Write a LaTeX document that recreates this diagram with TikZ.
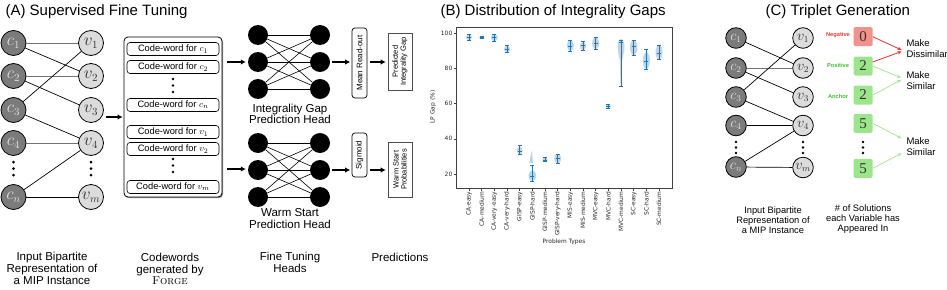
\documentclass[tikz,border=0pt]{standalone}
\usepackage{fontspec}
\setsansfont{Liberation Sans}
\newfontfamily\djv{DejaVu Sans}
\newfontfamily\tms{Liberation Serif}
\usetikzlibrary{arrows.meta}
\newcommand\setfs[2]{\fontsize{#1}{#2}\selectfont}
\definecolor{tabblue}{HTML}{1F77B4}
\definecolor{cdark}{HTML}{7B7B7B}
\definecolor{vlight}{HTML}{DCDCDC}
\definecolor{negred}{HTML}{F4918B}
\definecolor{posgreen}{HTML}{9DE58C}
\definecolor{labred}{HTML}{EE3B30}
\definecolor{labgreen}{HTML}{3CC030}
\definecolor{arrgreen}{HTML}{A8E892}
\definecolor{arrred}{HTML}{E8312A}
\begin{document}
\begin{tikzpicture}[x=1pt,y=-1pt,
  every node/.style={font=\sffamily},
  cnode/.style={circle,draw=black,line width=0.8pt,fill=cdark,minimum size=25pt,inner sep=0pt,text=black!12,font=\setfs{16}{16}},
  vnode/.style={circle,draw=black,line width=0.8pt,fill=vlight,minimum size=25pt,inner sep=0pt,text=black!80,font=\setfs{16}{16}},
  ccnode/.style={cnode,minimum size=20.6pt,font=\setfs{13.5}{13.5}},
  cvnode/.style={vnode,minimum size=20.6pt,font=\setfs{13.5}{13.5}},
  edge/.style={line width=0.7pt,black},
  gedge/.style={line width=1pt,black!55},
  arr/.style={line width=1.4pt,-{Latex[length=5pt,width=5.5pt]}},
  title/.style={anchor=base west,font=\sffamily\setfs{15}{16}},
  lab/.style={align=center,font=\sffamily\setfs{11.5}{11.7}},
  clab/.style={align=center,font=\sffamily\setfs{9.3}{10.2}},
  cwbox/.style={draw,rounded corners=3pt,line width=0.6pt,minimum width=92pt,minimum height=13pt,inner sep=0pt,font=\sffamily\setfs{9.3}{9.5}},
  neuron/.style={circle,fill=black,minimum size=20pt,inner sep=0pt},
  nedge/.style={line width=0.6pt,black},
  rbox/.style={draw,rounded corners=3pt,line width=0.7pt,rotate=90,inner sep=0pt,minimum height=15pt,font=\sffamily\setfs{8}{8.5}},
  pbox/.style={draw,line width=0.6pt,black!70,text=black,rotate=90,inner sep=0pt,minimum height=24pt,align=center,font=\sffamily\setfs{7.5}{8}},
  tick/.style={font=\djv\setfs{5.9}{6.2},text=black!85,inner sep=1pt},
  sq/.style={minimum size=19pt,rounded corners=1.5pt,inner sep=0pt,font=\tms\setfs{15}{15},text=black!80},
  tlab/.style={font=\sffamily\bfseries\setfs{5.7}{6}},
  mk/.style={anchor=west,align=left,font=\sffamily\setfs{9.5}{10.8}},
  rarr/.style={arrred,line width=0.8pt,-{Stealth[length=4pt,width=3.5pt]}},
  garr/.style={arrgreen,line width=0.8pt,-{Stealth[length=4pt,width=3.5pt]}}
]
\useasboundingbox (0,0) rectangle (947,289);

% ================= Panel A =================
\node[title] (tA) at (2,15.5) {(A) Supervised Fine Tuning};

\node[cnode] (ac1) at (13.5,43) {$c_1$};
\node[cnode] (ac2) at (13.5,76) {$c_2$};
\node[cnode] (ac3) at (13.5,110) {$c_3$};
\node[cnode] (ac4) at (13.5,143) {$c_4$};
\node[cnode] (acn) at (13.5,197) {$c_n$};
\node[vnode] (av1) at (91,43) {$v_1$};
\node[vnode] (av2) at (91,76) {$v_2$};
\node[vnode] (av3) at (91,110) {$v_3$};
\node[vnode] (av4) at (91,143) {$v_4$};
\node[vnode] (avm) at (91,197) {$v_m$};
\foreach \y in {162,168.5,175} {\fill (13.5,\y) circle (1.5pt); \fill (91,\y) circle (1.5pt);}
\draw[gedge] (ac1) -- (av1);
\draw[edge] (ac1) -- (av2);
\draw[gedge] (ac2) -- (av2);
\draw[edge] (ac2) -- (av3);
\draw[edge] (ac3) -- (av1);
\draw[edge] (ac3) -- (av4);
\draw[gedge] (ac4) -- (av4);
\draw[edge] (acn) -- (av4);
\draw[edge] (acn) -- (avm);

% codeword box
\fill[black!45,rounded corners=4pt] (125,38.2) rectangle (223,198.2);
\node[draw,fill=white,rounded corners=4pt,line width=0.8pt,minimum width=98pt,minimum height=160pt,inner sep=0pt] (cw) at (173,117) {};
\node[cwbox] (w1) at (173,49) {Code-word for $c_1$};
\node[cwbox] (w2) at (173,67) {Code-word for $c_2$};
\node[cwbox] (w3) at (173,105) {Code-word for $c_n$};
\node[cwbox] (w4) at (173,132) {Code-word for $v_1$};
\node[cwbox] (w5) at (173,149) {Code-word for $v_2$};
\node[cwbox] (w6) at (173,187) {Code-word for $v_m$};
\foreach \y in {79,85.5,92,159,165.5,172} {\fill (173,\y) circle (1.3pt);}

\coordinate (ain) at (106,117);
\draw[arr] (ain) -- ([xshift=-1pt]ain -| cw.west);

% heads
\foreach \r/\y in {1/35,2/62,3/89} {
  \node[neuron] (h1l\r) at (258,\y) {};
  \node[neuron] (h1r\r) at (320,\y) {};
}
\foreach \r/\y in {1/143,2/170,3/197} {
  \node[neuron] (h2l\r) at (258,\y) {};
  \node[neuron] (h2r\r) at (320,\y) {};
}
\foreach \i in {1,2,3} {\foreach \j in {1,2,3} {
  \draw[nedge] (h1l\i) -- (h1r\j);
  \draw[nedge] (h2l\i) -- (h2r\j);
}}
\coordinate (o1) at (227,62);
\coordinate (o2) at (227,169);
\draw[arr] (o1) -- ([xshift=-2pt]h1l2.west);
\draw[arr] (o2) -- ([xshift=-2pt]o2 -| h2l2.west);

\node[lab] (lh1) at (290,114) {Integrality Gap\\Prediction Head};
\node[lab] (lh2) at (290,218.5) {Warm Start\\Prediction Head};

% readouts
\node[rbox,minimum width=70pt] (mro) at (359.5,63) {Mean Read-out};
\node[rbox,minimum width=44pt] (sig) at (359.5,155) {Sigmoid};
\node[pbox,minimum width=57pt] (pig) at (400,61.5) {Predicted\\Integrality Gap};
\node[pbox,minimum width=55pt] (pws) at (400,169.5) {Warm Start\\Probabilities};
\draw[arr] ([xshift=2pt]h1r2.east) -- ([xshift=-1.5pt]h1r2.east -| mro.north);
\draw[arr] ([xshift=2pt]h2r2.east) -- ([xshift=-1.5pt]h2r2.east -| sig.north);
\draw[arr] ([xshift=3pt]mro.south |- h1r2) -- ([xshift=-2pt]pig.north |- h1r2);
\draw[arr] ([xshift=3pt]sig.south |- h2r2) -- ([xshift=-2pt]pws.north |- h2r2);

\node[lab] (bA1) at (52,268.5) {Input Bipartite\\Representation of\\a MIP Instance};
\node[lab] (bA2) at (170,269) {Codewords\\generated by\\{\rmfamily\textsc{Forge}}};
\node[lab] (bA3) at (290,262.5) {Fine Tuning\\Heads};
\node[lab] (bA4) at (400,257) {Predictions};

% ================= Panel B =================
\node[title] (tB) at (437,15.5) {(B) Distribution of Integrality Gaps};
\draw[black!75,line width=0.6pt] (456,27.5) rectangle (672,188);
\foreach \v in {20,40,60,80,100} {
  \draw[black!75,line width=0.5pt] (456,{174-(\v-20)*1.7625}) -- ++(-2.5,0) node[tick,anchor=east] {\v};
}
\node[tick] (ylab) at (433,107) [rotate=90] {LP Gap (\%)};
\foreach \lab [count=\i from 0] in {CA-easy,CA-medium,CA-very-easy,CA-very-hard,GISP-easy,GISP-hard,GISP-medium,GISP-very-hard,MIS-easy,MIS-medium,MVC-easy,MVC-hard,MVC-medium,SC-easy,SC-hard,SC-medium} {
  \pgfmathsetmacro\xx{469+\i*12.667}
  \draw[black!75,line width=0.5pt] (\xx,188) -- (\xx,190.5) node[tick,anchor=east,rotate=90] {\lab};
}
\node[tick] (xlab) at (564,242) {Problem Types};
% violins
\foreach \i/\vlo/\vhi/\w in {0/96/99/3,1/96.8/98.3/2.5,2/95.3/99.5/3.5,3/89/92.8/3,4/31.3/35.5/3,5/16/22/4,6/27/29.3/2.8,7/26/31.5/3.5,8/89.8/96/3.5,9/90.3/95/3.2,10/90.8/97.6/3.5,11/57/59.7/2.5,13/87.5/96/3.8,14/79.6/89/3.5,15/85/93.2/3.5} {
  \pgfmathsetmacro\xx{469+\i*12.667}
  \pgfmathsetmacro\yc{174-((\vlo+\vhi)/2-20)*1.7625}
  \pgfmathsetmacro\ry{(\vhi-\vlo)/2*1.7625}
  \fill[tabblue,opacity=0.3] (\xx,\yc) ellipse [x radius=\w, y radius=\ry];
}
\fill[tabblue,opacity=0.3] (621,38.5) .. controls (625.5,40) and (625,50) .. (622.2,60) -- (621.4,87) -- (620.6,87) -- (619.8,60) .. controls (617,50) and (616.5,40) .. (621,38.5) -- cycle;
\fill[tabblue,opacity=0.3] (532,150) -- (533,163) -- (529,163) -- cycle;
% whiskers
\foreach \i/\md/\lo/\hi in {0/97.5/96/99,1/97.5/96.8/98.3,2/97.5/95.3/99.3,3/90.8/89/92.8,4/33/31.3/36,5/18.5/16/25,6/28/27/29.3,7/28.8/26/31,8/92.6/89.8/96,9/92.8/90.3/95,10/94.1/90.8/97.6,11/58.3/57/59.7,12/94.7/69.5/96,13/92.2/87.5/96,14/83.7/79.6/90.8,15/88.5/85/93.2} {
  \pgfmathsetmacro\xx{469+\i*12.667}
  \pgfmathsetmacro\ylo{174-(\lo-20)*1.7625}
  \pgfmathsetmacro\yhi{174-(\hi-20)*1.7625}
  \pgfmathsetmacro\ymd{174-(\md-20)*1.7625}
  \draw[tabblue,line width=0.7pt] (\xx,\ylo) -- (\xx,\yhi);
  \draw[tabblue,line width=0.7pt] (\xx-2,\ylo) -- (\xx+2,\ylo) (\xx-2,\yhi) -- (\xx+2,\yhi) (\xx-2,\ymd) -- (\xx+2,\ymd);
}

% ================= Panel C =================
\node[title] (tC) at (762,15.5) {(C) Triplet Generation};
\node[ccnode] (cc1) at (736,38) {$c_1$};
\node[ccnode] (cc2) at (736,68) {$c_2$};
\node[ccnode] (cc3) at (736,97) {$c_3$};
\node[ccnode] (cc4) at (736,125.5) {$c_4$};
\node[ccnode] (ccn) at (736,167) {$c_n$};
\node[cvnode] (cv1) at (803,38) {$v_1$};
\node[cvnode] (cv2) at (803,68) {$v_2$};
\node[cvnode] (cv3) at (803,97) {$v_3$};
\node[cvnode] (cv4) at (803,125.5) {$v_4$};
\node[cvnode] (cvm) at (803,167.5) {$v_m$};
\foreach \y in {142,147.5,153} {\fill (736,\y) circle (1.3pt); \fill (803,\y) circle (1.3pt); \fill (863,\y) circle (1.3pt);}
\draw[edge] (cc1) -- (cv2);
\draw[gedge] (cc2) -- (cv2);
\draw[edge] (cc2) -- (cv3);
\draw[edge] (cc3) -- (cv1);
\draw[edge] (cc3) -- (cv4);
\draw[edge] (cc4) -- (cv4);
\draw[edge] (ccn) -- (cv4);
\draw[edge] (ccn) -- (cvm);

\node[sq,fill=negred] (s0) at (863,36.7) {0};
\node[sq,fill=posgreen] (s1) at (863,66) {2};
\node[sq,fill=posgreen] (s2) at (863,95) {2};
\node[sq,fill=posgreen] (s3) at (863,123.3) {5};
\node[sq,fill=posgreen] (s4) at (863,168.3) {5};
\node[tlab,text=labred] (lneg) at (838,35) {Negative};
\node[tlab,text=labgreen] (lpos) at (838,65) {Positive};
\node[tlab,text=labgreen] (lanc) at (838,96) {Anchor};

\node[mk] (mk1) at (903,48.8) {Make\\Dissimilar};
\node[mk] (mk2) at (903,80.3) {Make\\Similar};
\node[mk] (mk3) at (903,146.7) {Make\\Similar};
\coordinate (e1) at (901.5,50);
\coordinate (e2) at (901.5,51.5);
\coordinate (e3) at (901,77.7);
\coordinate (e4) at (901,80);
\coordinate (e5) at (901.5,138.3);
\coordinate (e6) at (901.5,153.3);
\draw[rarr] (s0.east) -- (e1);
\draw[rarr] ([yshift=4pt]s1.east) -- (e2);
\draw[garr] (s1.east) -- (e3);
\draw[garr] (s2.east) -- (e4);
\draw[garr] (s3.east) -- (e5);
\draw[garr] (s4.east) -- (e6);

\node[clab] (bC1) at (773,220) {Input Bipartite\\Representation of\\a MIP Instance};
\node[clab] (bC2) at (863,219) {\# of Solutions\\each Variable has\\Appeared In};
\end{tikzpicture}
\end{document}
